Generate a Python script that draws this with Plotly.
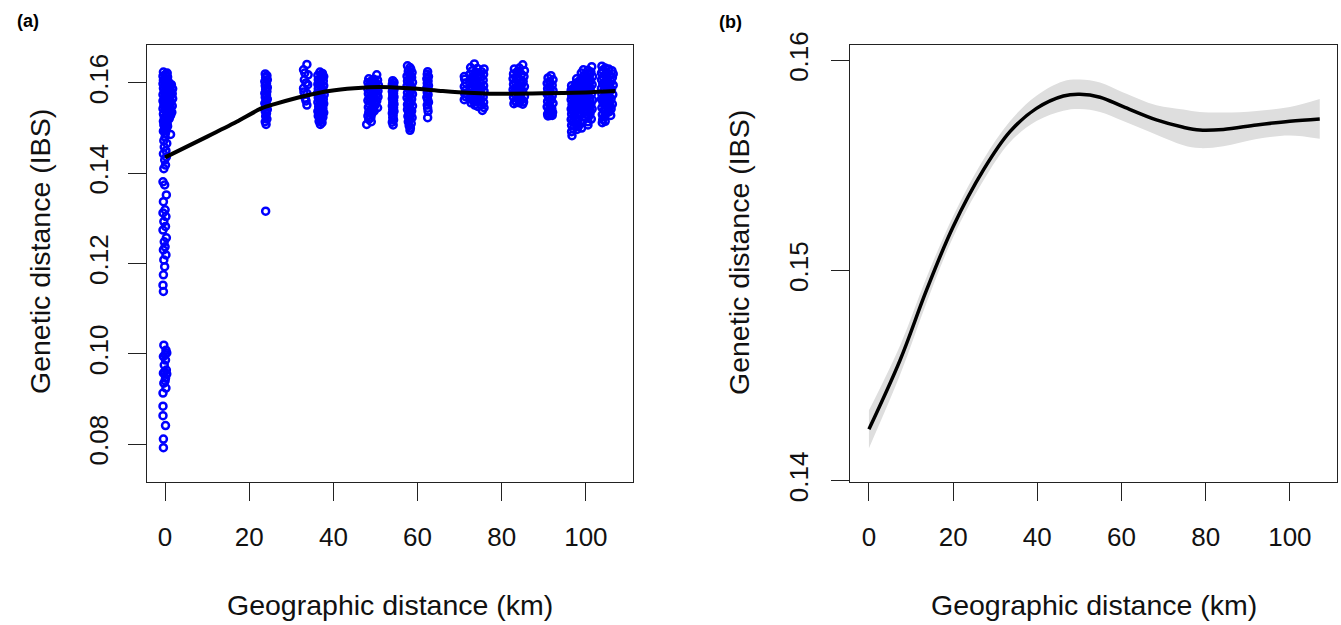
import plotly.graph_objects as go

# ---------------- Panel (a): scatter clusters (x km, y IBS) ----------------
c0_main = [(-0.4,0.1624),(0.5,0.1622),(0.1,0.1619),(-0.5,0.1615),(0.6,0.1613),(0.0,0.1610),(-0.4,0.1606),(0.7,0.1604),(0.2,0.1601),
           (-0.5,0.1598),(0.6,0.1597),(1.5,0.1596),(0.0,0.1593),(1.1,0.1591),(-0.4,0.1588),(1.8,0.1587),(0.5,0.1585),(1.3,0.1582),
           (-0.2,0.1580),(0.8,0.1578),(1.7,0.1576),(-0.5,0.1574),(0.3,0.1572),(1.2,0.1570),(-0.1,0.1567),(1.8,0.1565),(0.7,0.1563),
           (-0.5,0.1560),(1.4,0.1558),(0.2,0.1556),(1.0,0.1553),(-0.3,0.1551),(1.7,0.1549),(0.5,0.1546),(-0.5,0.1543),(1.2,0.1541),
           (0.1,0.1538),(1.6,0.1535),(0.8,0.1533),(-0.4,0.1531),(1.3,0.1528),(0.3,0.1526),(-0.2,0.1523),(1.0,0.1521),
           (0.5,0.1518),(-0.4,0.1515),(0.2,0.1511),(-0.3,0.1507),(0.6,0.1504),(-0.1,0.1500),(0.3,0.1496),(-0.4,0.1493),(0.1,0.1489),(1.3,0.1486),
           (0.0,0.1480),(-0.3,0.1472),(0.4,0.1466),(-0.2,0.1458),(0.2,0.1450),(-0.4,0.1443),(0.3,0.1436),(-0.1,0.1429),(0.1,0.1418),(-0.3,0.1410),
           (0.2,0.1616),(-0.1,0.1603),(1.0,0.1599),(0.4,0.1590),(1.5,0.1580),(0.0,0.1576),(1.0,0.1567),(0.4,0.1560),(-0.2,0.1557),
           (1.2,0.1547),(0.0,0.1545),(0.6,0.1537),(1.0,0.1530),(0.0,0.1519),(0.5,0.1509),(0.0,0.1497)]
c0_sparse = [(-0.5,0.1381),(-0.1,0.1374),(0.3,0.1352),(-0.4,0.1337),(0.0,0.1319),(-0.5,0.1312),(0.2,0.1304),(-0.3,0.1293),
             (0.1,0.1282),(-0.5,0.1274),(0.3,0.1257),(-0.2,0.1248),(0.0,0.1237),(-0.4,0.1230),(0.2,0.1219),(-0.3,0.1208),
             (-0.1,0.1193),(-0.4,0.1175),(-0.5,0.1152),(-0.4,0.1138)]
c0_low = [(-0.3,0.1019),(0.2,0.1008),(0.4,0.1002),(0.0,0.0998),(-0.4,0.0994),(0.1,0.0986),(-0.2,0.0975),(0.3,0.0964),
          (-0.1,0.0960),(0.4,0.0955),(-0.4,0.0957),(0.1,0.0946),(0.0,0.0940),(-0.3,0.0935),(0.2,0.0924),(-0.5,0.0913),
          (-0.5,0.0884),(-0.5,0.0863),(0.1,0.0841),(-0.4,0.0811),(-0.4,0.0792)]
c24 = [(23.8,0.1620),(24.2,0.1616),(23.9,0.1612),(24.3,0.1607),(23.7,0.1603),(24.1,0.1599),(23.8,0.1594),(24.3,0.1590),
       (23.9,0.1586),(24.2,0.1581),(23.7,0.1577),(24.1,0.1573),(23.8,0.1568),(24.3,0.1564),(24.0,0.1559),(23.7,0.1555),
       (24.2,0.1550),(23.9,0.1546),(24.3,0.1541),(23.8,0.1537),(24.1,0.1532),(23.9,0.1526),(24.2,0.1520),(23.8,0.1514),
       (24.0,0.1508),(23.9,0.1316)]
c33 = [(33.7,0.1641),(32.9,0.1629),(33.2,0.1622),(34.0,0.1618),(33.1,0.1607),(33.5,0.1600),(33.9,0.1596),(32.9,0.1588),
       (33.0,0.1580),(33.7,0.1577),(33.3,0.1566),(33.5,0.1560),(33.7,0.1551)]
c37 = [(36.8,0.1624),(37.4,0.1621),(36.3,0.1617),(37.7,0.1614),(37.0,0.1611),(36.4,0.1607),(37.6,0.1604),(36.9,0.1601),
       (36.3,0.1597),(37.7,0.1594),(37.1,0.1591),(36.4,0.1587),(37.5,0.1584),(36.8,0.1580),(36.2,0.1577),(37.8,0.1574),
       (37.0,0.1570),(36.4,0.1567),(37.6,0.1564),(36.9,0.1560),(36.3,0.1557),(37.7,0.1554),(37.1,0.1550),(36.5,0.1547),
       (37.5,0.1544),(36.8,0.1540),(36.3,0.1537),(37.7,0.1534),(37.0,0.1530),(36.4,0.1527),(37.5,0.1524),(36.9,0.1520),
       (36.6,0.1515),(37.3,0.1512),(36.9,0.1508),
       (37.2,0.1617),(36.6,0.1599),(37.3,0.1580),(36.6,0.1570),(37.3,0.1557),(36.7,0.1552),(37.3,0.1537),(36.6,0.1533),(37.2,0.1518)]
c48 = [(48.4,0.1609),(49.6,0.1608),(50.5,0.1606),(49.0,0.1604),(48.2,0.1601),(50.1,0.1600),(49.4,0.1597),(50.7,0.1595),
       (48.5,0.1594),(49.1,0.1590),(50.3,0.1589),(48.2,0.1586),(49.8,0.1585),(50.6,0.1582),(48.8,0.1581),(49.5,0.1577),
       (48.3,0.1576),(50.2,0.1574),(49.0,0.1571),(50.6,0.1569),(48.5,0.1567),(49.7,0.1565),(48.2,0.1561),(50.3,0.1560),
       (49.2,0.1557),(48.6,0.1553),(50.0,0.1552),(49.4,0.1548),(48.3,0.1546),(50.5,0.1545),(48.9,0.1541),(49.7,0.1538),
       (48.4,0.1535),(49.1,0.1531),(48.2,0.1527),(48.9,0.1523),(48.4,0.1519),(49.0,0.1514),(47.9,0.1508),(50.3,0.1618),
       (49.3,0.1602),(48.8,0.1590),(50.0,0.1580),(49.3,0.1570),(48.8,0.1560),(49.8,0.1555),(49.5,0.1542)]
c54 = [(54.1,0.1605),(54.4,0.1601),(54.0,0.1597),(54.3,0.1593),(54.1,0.1589),(54.4,0.1585),(54.0,0.1581),(54.3,0.1577),
       (54.1,0.1573),(54.4,0.1569),(54.0,0.1565),(54.3,0.1561),(54.1,0.1557),(54.4,0.1553),(54.0,0.1549),(54.3,0.1545),
       (54.1,0.1541),(54.4,0.1537),(54.0,0.1533),(54.2,0.1528),(54.1,0.1523),(54.3,0.1518),(54.0,0.1513),(54.2,0.1507)]
c58 = [(57.6,0.1638),(58.4,0.1630),(57.8,0.1626),(58.7,0.1623),(58.1,0.1619),(57.5,0.1615),(58.6,0.1612),(58.0,0.1608),
       (57.6,0.1604),(58.8,0.1601),(58.2,0.1597),(57.5,0.1593),(58.6,0.1590),(57.9,0.1586),(58.4,0.1582),(57.6,0.1578),
       (58.8,0.1575),(58.1,0.1571),(57.5,0.1567),(58.6,0.1564),(57.9,0.1560),(58.4,0.1556),(57.6,0.1552),(58.8,0.1549),
       (58.1,0.1545),(57.6,0.1541),(58.6,0.1538),(57.9,0.1534),(58.4,0.1530),(57.7,0.1526),(58.7,0.1523),(58.1,0.1519),
       (57.8,0.1514),(58.5,0.1510),(58.0,0.1505),(58.3,0.1500),(58.2,0.1495),
       (58.2,0.1634),(58.2,0.1610),(58.0,0.1588),(58.2,0.1574),(58.0,0.1556),(58.3,0.1540),(58.0,0.1525)]
c62 = [(62.4,0.1625),(62.3,0.1619),(62.6,0.1614),(62.2,0.1609),(62.5,0.1604),(62.3,0.1599),(62.6,0.1594),(62.2,0.1589),
       (62.5,0.1584),(62.3,0.1579),(62.5,0.1574),(62.2,0.1568),(62.4,0.1563),(62.6,0.1557),(62.3,0.1551),(62.4,0.1544),
       (62.5,0.1537),(62.4,0.1523)]
c73 = [(71.2,0.1608),(71.1,0.1614),(71.5,0.1600),(71.1,0.1592),(71.4,0.1584),(71.2,0.1576),(71.5,0.1569),(71.1,0.1563),
       (73.5,0.1642),(72.6,0.1634),(74.2,0.1632),(73.0,0.1627),(73.9,0.1623),(72.4,0.1619),(73.4,0.1616),(74.3,0.1612),
       (72.8,0.1609),(73.8,0.1605),(72.4,0.1601),(73.2,0.1598),(74.2,0.1594),(72.7,0.1590),(73.7,0.1587),(72.4,0.1583),
       (73.3,0.1579),(74.3,0.1576),(72.8,0.1572),(73.8,0.1568),(72.4,0.1565),(73.2,0.1561),(74.1,0.1558),(72.7,0.1556),
       (73.6,0.1551),(74.3,0.1548),
       (75.8,0.1631),(75.2,0.1625),(75.7,0.1619),(75.1,0.1613),(75.6,0.1606),(75.0,0.1600),(75.7,0.1594),(75.2,0.1588),
       (75.8,0.1582),(75.1,0.1575),(75.6,0.1569),(75.0,0.1563),(75.7,0.1557),(75.2,0.1551),(75.8,0.1545),(75.4,0.1539),
       (73.0,0.1613),(73.6,0.1600),(73.0,0.1585),(73.8,0.1575),(73.0,0.1566),(73.6,0.1562),(74.6,0.1620),(74.7,0.1585),(74.7,0.1560)]
c84 = [(85.0,0.1640),(83.0,0.1631),(84.2,0.1633),(85.4,0.1627),(83.6,0.1624),(82.8,0.1620),(84.7,0.1619),(85.3,0.1614),
       (83.9,0.1613),(82.7,0.1609),(84.4,0.1606),(85.1,0.1603),(83.3,0.1601),(82.8,0.1597),(84.0,0.1596),(85.4,0.1592),
       (83.6,0.1590),(84.6,0.1587),(82.7,0.1585),(85.0,0.1581),(83.9,0.1579),(83.1,0.1576),(84.5,0.1573),(85.4,0.1570),
       (82.8,0.1568),(83.7,0.1566),(84.8,0.1563),(83.2,0.1560),(85.2,0.1558),(84.2,0.1556),(82.9,0.1554),(85.0,0.1553),
       (84.0,0.1626),(83.4,0.1610),(84.8,0.1598),(83.3,0.1585),(84.3,0.1582),(84.0,0.1570),(83.5,0.1557)]
c91 = [(91.7,0.1616),(91.0,0.1611),(92.2,0.1607),(91.4,0.1603),(90.8,0.1599),(92.0,0.1595),(91.3,0.1591),(90.9,0.1587),
       (92.2,0.1583),(91.5,0.1579),(90.8,0.1575),(92.0,0.1571),(91.2,0.1567),(91.8,0.1563),(90.9,0.1559),(92.2,0.1555),
       (91.4,0.1551),(90.8,0.1547),(91.9,0.1543),(91.2,0.1539),(92.1,0.1535),(90.9,0.1531),(91.5,0.1528),(91.0,0.1527),(92.0,0.1528),
       (91.5,0.1600),(91.5,0.1585),(91.5,0.1560),(91.6,0.1540)]
c98 = [(96.6,0.1594),(97.1,0.1589),(96.5,0.1584),(97.0,0.1579),(96.6,0.1573),(97.2,0.1568),(96.5,0.1563),(97.0,0.1558),
       (96.7,0.1552),(97.2,0.1547),(96.5,0.1542),(97.0,0.1536),(96.6,0.1531),(97.1,0.1525),(96.5,0.1519),(96.9,0.1513),
       (96.6,0.1506),(97.0,0.1499),(96.6,0.1492),(96.7,0.1483),
       (97.8,0.1609),(98.4,0.1604),(97.6,0.1599),(98.2,0.1594),(97.7,0.1588),(98.5,0.1583),(97.9,0.1578),(98.3,0.1572),
       (97.6,0.1567),(98.1,0.1561),(98.5,0.1556),(97.8,0.1551),(98.3,0.1545),(97.6,0.1540),(98.0,0.1534),(98.4,0.1528),
       (97.7,0.1522),(98.1,0.1516),(97.8,0.1509),(98.2,0.1503),(97.9,0.1497),
       (99.4,0.1629),(98.9,0.1622),(99.8,0.1618),(99.2,0.1613),(98.9,0.1607),(99.7,0.1603),(99.2,0.1597),(99.9,0.1591),
       (98.9,0.1586),(99.5,0.1581),(99.0,0.1575),(99.8,0.1570),(99.3,0.1564),(98.9,0.1559),(99.6,0.1553),(99.1,0.1548),
       (99.9,0.1542),(99.4,0.1536),(98.9,0.1530),(99.6,0.1524),(99.2,0.1518),(99.0,0.1511),(99.0,0.1500),
       (101.4,0.1636),(100.5,0.1628),(101.2,0.1624),(100.8,0.1618),(101.6,0.1614),(100.4,0.1610),(101.1,0.1605),(100.7,0.1600),
       (101.5,0.1596),(100.3,0.1591),(101.0,0.1586),(100.6,0.1581),(101.4,0.1577),(100.3,0.1572),(100.9,0.1567),(101.6,0.1562),
       (100.5,0.1557),(101.2,0.1552),(100.8,0.1547),(101.5,0.1542),(100.4,0.1537),(101.0,0.1532),(100.7,0.1526),(101.3,0.1520),
       (100.5,0.1514),(100.5,0.1507),
       (96.9,0.1576),(96.9,0.1540),(98.0,0.1590),(98.0,0.1565),(98.2,0.1530),(99.5,0.1608),(99.5,0.1570),(99.4,0.1545),
       (101.0,0.1620),(101.0,0.1590),(101.0,0.1560),(101.0,0.1540)]
c105 = [(103.8,0.1637),(104.6,0.1633),(105.4,0.1631),(106.2,0.1627),(104.0,0.1628),(105.0,0.1624),(106.5,0.1620),(103.7,0.1622),
        (104.5,0.1618),(105.7,0.1617),(104.1,0.1613),(106.3,0.1612),(105.1,0.1609),(103.7,0.1607),(104.7,0.1604),(106.0,0.1603),
        (105.4,0.1599),(104.0,0.1598),(106.5,0.1595),(104.6,0.1593),(105.1,0.1589),(103.7,0.1588),(106.1,0.1586),(104.3,0.1583),
        (105.6,0.1580),(104.9,0.1577),(103.8,0.1575),(106.4,0.1574),(104.4,0.1571),(105.3,0.1568),(106.0,0.1565),(103.7,0.1564),
        (104.8,0.1561),(105.6,0.1557),(104.1,0.1555),(106.3,0.1553),(104.6,0.1550),(105.2,0.1546),(103.8,0.1545),(106.0,0.1542),
        (104.3,0.1539),(105.5,0.1536),(104.8,0.1532),(103.9,0.1530),(105.9,0.1528),(104.4,0.1525),(104.0,0.1519),(104.6,0.1515),
        (103.9,0.1512),
        (105.0,0.1615),(104.8,0.1595),(105.6,0.1590),(105.0,0.1570),(104.2,0.1565),(105.0,0.1552),(105.8,0.1548),(104.6,0.1540)]

# Panel (a) smooth fit line
fit_a_x = [0, 10, 17, 23, 26, 31, 35, 39, 45, 51, 58, 66, 72, 77, 90, 100, 107]
fit_a_y = [0.1435, 0.1481, 0.1514, 0.1544, 0.1553, 0.1566, 0.1575, 0.1582, 0.1588, 0.1591, 0.1588, 0.1582, 0.1578, 0.1576, 0.1577, 0.1579, 0.1582]

# ---------------- Panel (b): GAM fit with confidence band ----------------
fit_b_x = [0, 7.4, 13.7, 20, 27.2, 33.5, 39.8, 46.2, 50.1, 54.9, 60.4, 68.3, 74.7, 78.6, 84.2, 92.1, 100, 107.1]
fit_b_y = [0.14245, 0.14574, 0.14908, 0.15209, 0.15479, 0.15661, 0.15772, 0.15831, 0.15839, 0.15825, 0.15780, 0.15717,
           0.15682, 0.15669, 0.15672, 0.15693, 0.15711, 0.15722]
fit_b_hw = [0.0009, 0.0007, 0.0006, 0.0005, 0.0005, 0.0005, 0.0006, 0.0007, 0.0007, 0.0007, 0.00068, 0.0007,
            0.00085, 0.00086, 0.0008, 0.00067, 0.00068, 0.00095]

x_ticks = [0, 20, 40, 60, 80, 100]
ya_ticks = [0.08, 0.10, 0.12, 0.14, 0.16]
ya_labels = ["0.08", "0.10", "0.12", "0.14", "0.16"]
yb_ticks = [0.14, 0.15, 0.16]
yb_labels = ["0.14", "0.15", "0.16"]

FONT = "Liberation Sans, Arial, Helvetica, sans-serif"

clusters = [c0_main, c0_sparse, c0_low, c24, c33, c37, c48, c54, c58, c62, c73, c84, c91, c98, c105]
sx = [p[0] for c in clusters for p in c]
sy = [p[1] for c in clusters for p in c]

fig = go.Figure()
fig.add_trace(go.Scatter(x=sx, y=sy, mode="markers", xaxis="x", yaxis="y",
                         marker=dict(symbol="circle-open", size=7, color="#0000FF", line=dict(width=2.5, color="#0000FF")),
                         hoverinfo="skip"))
fig.add_trace(go.Scatter(x=fit_a_x, y=fit_a_y, mode="lines", xaxis="x", yaxis="y",
                         line=dict(color="black", width=4, shape="spline", smoothing=0.8)))

lower = [y - h for y, h in zip(fit_b_y, fit_b_hw)]
upper = [y + h for y, h in zip(fit_b_y, fit_b_hw)]
fig.add_trace(go.Scatter(x=fit_b_x, y=lower, mode="lines", xaxis="x2", yaxis="y2",
                         line=dict(width=0, color="#DDDDDD", shape="spline"), hoverinfo="skip"))
fig.add_trace(go.Scatter(x=fit_b_x, y=upper, mode="lines", xaxis="x2", yaxis="y2", fill="tonexty",
                         fillcolor="#DEDEDE", line=dict(width=0, color="#DDDDDD", shape="spline"), hoverinfo="skip"))
fig.add_trace(go.Scatter(x=fit_b_x, y=fit_b_y, mode="lines", xaxis="x2", yaxis="y2",
                         line=dict(color="black", width=3.5, shape="spline")))

axis_common = dict(showgrid=False, zeroline=False, showline=True, mirror=True, linecolor="#222222", linewidth=1.3,
                   ticks="outside", ticklen=18, tickwidth=1.3, tickcolor="#222222", automargin=False,
                   tickfont=dict(family=FONT, size=26, color="#111111"))

fig.update_layout(
    template="none",
    width=1341, height=625, margin=dict(l=0, r=0, t=0, b=0, autoexpand=False),
    paper_bgcolor="white", plot_bgcolor="white", showlegend=False,
    xaxis=dict(domain=[147/1341, 633/1341], range=[-4.3, 111.2], tickvals=x_ticks, anchor="y",
               ticklabelstandoff=14, **axis_common),
    yaxis=dict(domain=[1-482/625, 1-45/625], range=[0.0716, 0.1684], tickvals=ya_ticks, ticktext=ya_labels,
               tickangle=-90, anchor="x", ticklabelstandoff=9, **axis_common),
    xaxis2=dict(domain=[850/1341, 1337/1341], range=[-4.5, 111.2], tickvals=x_ticks, anchor="y2",
                ticklabelstandoff=14, **axis_common),
    yaxis2=dict(domain=[1-482/625, 1-44.7/625], range=[0.13994, 0.16075], tickvals=yb_ticks, ticktext=yb_labels,
                tickangle=-90, anchor="x2", ticklabelstandoff=12, **axis_common),
)

title_font = dict(family=FONT, size=28.5, color="#111111")
common_ann = dict(xref="paper", yref="paper", showarrow=False, xanchor="center", yanchor="middle")
ann = [
    dict(text="Geographic distance (km)", x=390/1341, y=1-605/625, font=title_font, **common_ann),
    dict(text="Geographic distance (km)", x=1094/1341, y=1-605/625, font=title_font, **common_ann),
    dict(text="Genetic distance (IBS)", x=40/1341, y=1-252/625, textangle=-90, font=title_font, **common_ann),
    dict(text="Genetic distance (IBS)", x=739/1341, y=1-252/625, textangle=-90, font=title_font, **common_ann),
    dict(text="<b>(a)</b>", x=28/1341, y=1-21/625, font=dict(family=FONT, size=18, color="black"), **common_ann),
    dict(text="<b>(b)</b>", x=730/1341, y=1-22/625, font=dict(family=FONT, size=18, color="black"), **common_ann),
]
fig.update_layout(annotations=ann)

fig.write_html("out.html", config={"displayModeBar": False},
               post_script="document.body.style.margin='0px';")
